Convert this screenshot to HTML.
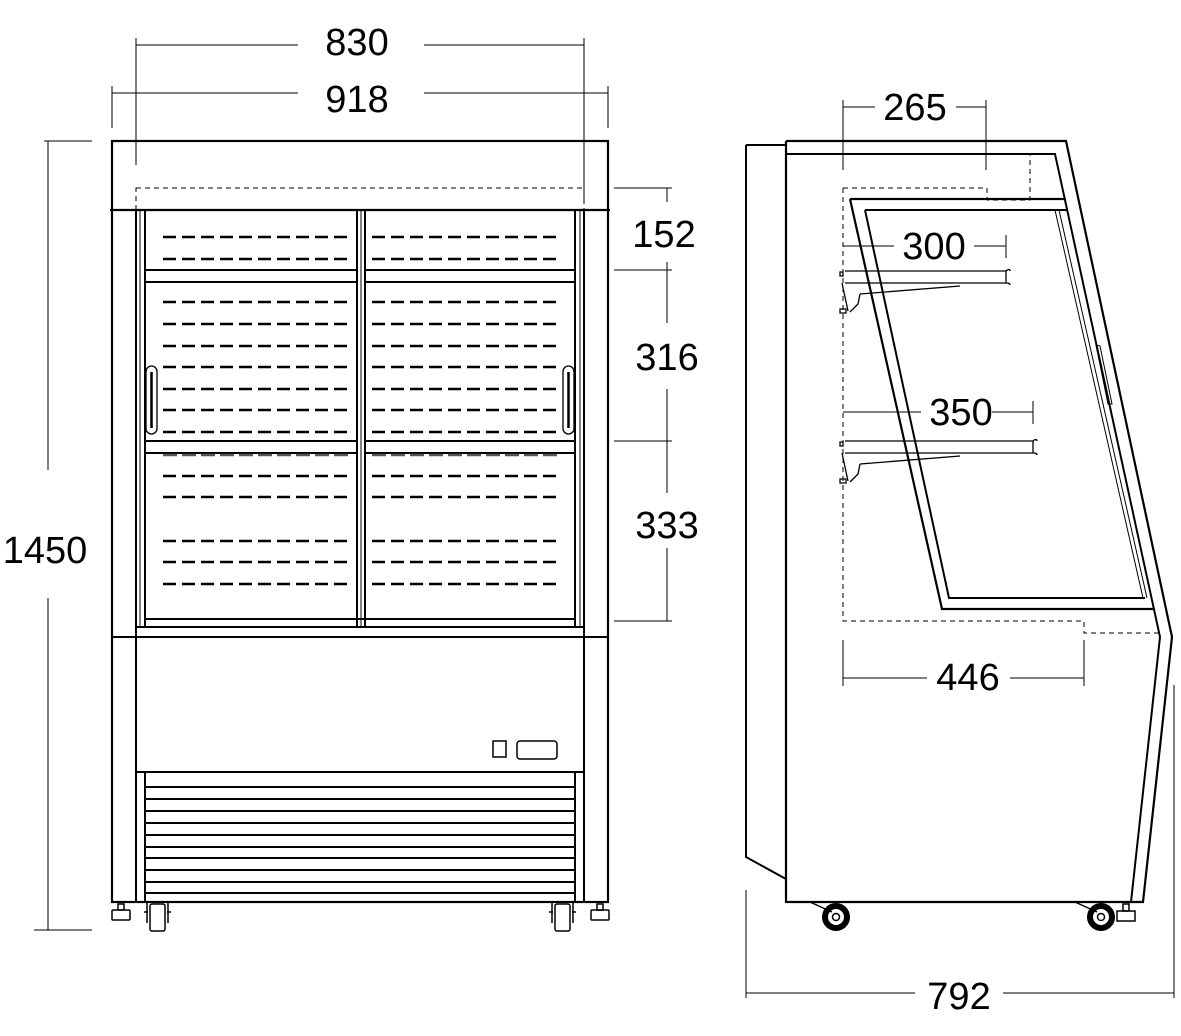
<!DOCTYPE html>
<html><head><meta charset="utf-8"><style>
html,body{margin:0;padding:0;background:#fff;}
svg{display:block;}
text{font-family:"Liberation Sans",sans-serif;font-size:38px;fill:#000;text-anchor:middle;}
</style></head><body>
<svg width="1181" height="1036" viewBox="0 0 1181 1036" xmlns="http://www.w3.org/2000/svg">
<g fill="none" stroke="#000">
<!-- FRONT VIEW -->
<rect x="112" y="141" width="496" height="761" stroke-width="2.2"/>
<line x1="110" y1="210" x2="610" y2="210" stroke-width="2.2"/>
<rect x="136" y="188" width="448" height="22" stroke-width="1" stroke-dasharray="5,4"/>
<line x1="136" y1="210" x2="136" y2="902" stroke-width="2"/>
<line x1="584" y1="210" x2="584" y2="902" stroke-width="2"/>
<line x1="140" y1="210" x2="140" y2="627" stroke-width="1"/>
<line x1="580" y1="210" x2="580" y2="627" stroke-width="1"/>
<line x1="145" y1="210" x2="145" y2="627" stroke-width="2"/>
<line x1="575" y1="210" x2="575" y2="627" stroke-width="2"/>
<line x1="357" y1="210" x2="357" y2="627" stroke-width="2"/>
<line x1="365" y1="210" x2="365" y2="627" stroke-width="2"/>
<line x1="361" y1="210" x2="361" y2="627" stroke-width="1"/>
<g stroke-width="2">
<line x1="145" y1="270" x2="357" y2="270"/><line x1="145" y1="282" x2="357" y2="282"/>
<line x1="365" y1="270" x2="575" y2="270"/><line x1="365" y1="282" x2="575" y2="282"/>
<line x1="145" y1="441" x2="357" y2="441"/><line x1="145" y1="453" x2="357" y2="453"/>
<line x1="365" y1="441" x2="575" y2="441"/><line x1="365" y1="453" x2="575" y2="453"/>
<line x1="145" y1="619" x2="575" y2="619"/>
<line x1="136" y1="627" x2="584" y2="627"/>
<line x1="112" y1="637" x2="608" y2="637"/>
<line x1="136" y1="772" x2="584" y2="772"/>
</g>
<g stroke-width="2.6" stroke-dasharray="13,6">
<path d="M163 237H350M163 259H350M163 302H350M163 324H350M163 346H350M163 367H350M163 389H350M163 410H350M163 432H350M163 476H350M163 497H350M163 541H350M163 562H350M163 584H350"/>
<path d="M372 237H559M372 259H559M372 302H559M372 324H559M372 346H559M372 367H559M372 389H559M372 410H559M372 432H559M372 476H559M372 497H559M372 541H559M372 562H559M372 584H559"/>
</g>
<g stroke-width="2.5" stroke-dasharray="14,5" stroke="#555">
<path d="M163 455H350M372 455H559"/>
</g>
<rect x="146" y="366" width="11" height="68" rx="5.5" stroke-width="1.3"/>
<line x1="151.5" y1="372" x2="151.5" y2="428" stroke-width="2.5"/>
<rect x="563" y="366" width="11" height="68" rx="5.5" stroke-width="1.3"/>
<line x1="568.5" y1="372" x2="568.5" y2="428" stroke-width="2.5"/>
<rect x="493" y="741" width="13" height="16" stroke-width="1.5"/>
<rect x="517" y="741" width="40" height="18" rx="3" stroke-width="1.5"/>
<g stroke-width="2">
<line x1="145" y1="772" x2="145" y2="902"/><line x1="575" y1="772" x2="575" y2="902"/>
<path d="M145 787H575M145 799H575M145 811H575M145 823H575M145 835H575M145 847H575M145 858H575M145 870H575M145 882H575M145 893H575"/>
</g>
<g stroke-width="1.5">
<rect x="118" y="904" width="6" height="6"/><rect x="112" y="910" width="18" height="10" rx="1"/>
<rect x="597" y="904" width="6" height="6"/><rect x="591" y="910" width="18" height="10" rx="1"/>
<rect x="150" y="904" width="15" height="27" rx="2"/><path d="M147 903v20M168 903v20M144 912h4M167 912h4"/>
<rect x="555" y="904" width="15" height="27" rx="2"/><path d="M552 903v20M573 903v20M549 912h4M572 912h4"/>
</g>
<g stroke-width="1">
<path d="M136 38V165M584 38V202M136 45H298M424 45H584"/>
<path d="M112 86V128M608 86V128M112 93H298M424 93H608"/>
<path d="M44 141H92M34 930H92M48 141V470M48 598V930"/>
<path d="M614 188H672M614 270H672M614 441H672M614 621H672"/>
<path d="M667 188V202M667 262V323M667 389V493M667 548V621"/>
</g>
<!-- SIDE VIEW -->
<path d="M746 145H786M746 145V857L786 879" stroke-width="2"/>
<path d="M786 141V902H1143L1172 637L1066 141H786" stroke-width="2.2"/>
<path d="M786 154H1055L1160 637L1131 902" stroke-width="2"/>
<path d="M850 199H1066M850 199L942 609H1153" stroke-width="2.2"/>
<path d="M865 210H1068M865 210L949 598H1145" stroke-width="2"/>
<path d="M1055 210L1143 598M1059 210L1147 598" stroke-width="1"/>
<path d="M1096 345l4 1l12 58l-4 0z" stroke-width="1"/>
<g stroke-width="1" stroke-dasharray="5,4">
<path d="M843 188H987V200H1030V154"/>
<path d="M843 188V621H1084V633H1160"/>
</g>
<g stroke-width="1.3">
<path d="M845 271H1006V283H845M1006 271c2-2 4-2 4 0M1006 283c2 0 4 0 4 2"/>
<path d="M842 283l6 28M860 294L960 286M860 294l-2 10l-8 8"/>
<path d="M840 272h3v4h-3zM840 309h6v4h-6z"/>
<path d="M845 441H1033V453H845M1033 441c2-2 4-2 4 0M1033 453c2 0 4 0 4 2"/>
<path d="M842 453l6 28M860 464L960 456M860 464l-2 10l-8 8"/>
<path d="M840 442h3v4h-3zM840 479h6v4h-6z"/>
</g>
<circle cx="836" cy="917" r="11" stroke-width="6"/>
<circle cx="836" cy="917" r="3.5" stroke-width="1.5"/>
<path d="M810 902l22 10" stroke-width="1.5"/>
<circle cx="1101" cy="917" r="11" stroke-width="6"/>
<circle cx="1101" cy="917" r="3.5" stroke-width="1.5"/>
<path d="M1075 902l22 10" stroke-width="1.5"/>
<rect x="1123" y="904" width="6" height="7" stroke-width="1.5"/><rect x="1117" y="911" width="18" height="10" stroke-width="1.5"/>
<g stroke-width="1">
<path d="M843 100V170M986 100V170M843 107H875M956 107H986"/>
<path d="M843 246H894M974 246H1006M1006 235V258"/>
<path d="M843 412H921M992 412H1033M1033 401V424"/>
<path d="M843 640V686M1084 640V686M843 678H927M1010 678H1084"/>
<path d="M746 890V998M1174 685V998M746 993H915M1003 993H1174"/>
</g>
</g>
<text x="357" y="55">830</text>
<text x="357" y="112">918</text>
<text x="45" y="563">1450</text>
<text x="664" y="247">152</text>
<text x="667" y="370">316</text>
<text x="667" y="538">333</text>
<text x="915" y="120">265</text>
<text x="934" y="259">300</text>
<text x="961" y="425">350</text>
<text x="968" y="690">446</text>
<text x="959" y="1009">792</text>
</svg>
</body></html>
